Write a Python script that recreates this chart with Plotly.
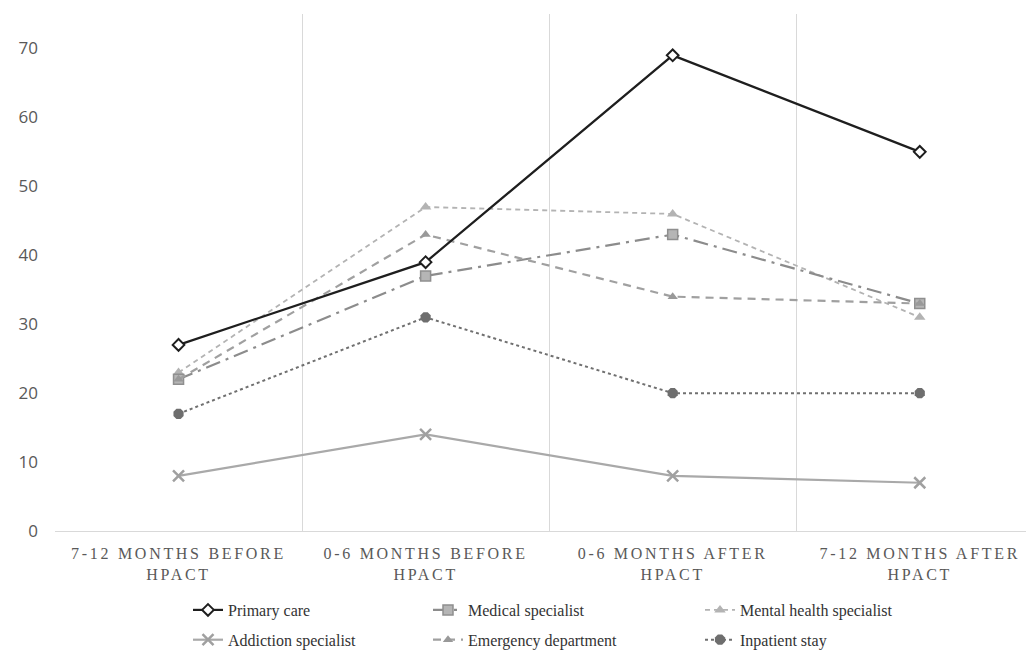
import plotly.graph_objects as go

categories = ["7-12 MONTHS BEFORE<br>HPACT", "0-6 MONTHS BEFORE<br>HPACT",
              "0-6 MONTHS AFTER<br>HPACT", "7-12 MONTHS AFTER<br>HPACT"]

primary_care = [27, 39, 69, 55]
medical_specialist = [22, 37, 43, 33]
mental_health_specialist = [23, 47, 46, 31]
addiction_specialist = [8, 14, 8, 7]
emergency_department = [22, 43, 34, 33]
inpatient_stay = [17, 31, 20, 20]

y_ticks = [0, 10, 20, 30, 40, 50, 60, 70]

series = [
    dict(name="Primary care", y=primary_care, color="#1e1e1e", dash="solid", width=2.2,
         symbol="diamond-open", msize=9, mcolor="#1e1e1e", mline=2, legend="legend", group=1),
    dict(name="Addiction specialist", y=addiction_specialist, color="#a9a9a9", dash="solid", width=2.2,
         symbol="x-thin-open", msize=11, mcolor="#a0a0a0", mline=2.5, legend="legend", group=2),
    dict(name="Medical specialist", y=medical_specialist, color="#8c8c8c", dash="longdashdot", width=2.2,
         symbol="square", msize=10, mcolor="#b5b5b5", mline=1.5, legend="legend2", group=3),
    dict(name="Emergency department", y=emergency_department, color="#a0a0a0", dash="8px,6px", width=2.2,
         symbol="triangle-up", msize=9, mcolor="#999999", mline=0, legend="legend2", group=4),
    dict(name="Mental health specialist", y=mental_health_specialist, color="#b3b3b3", dash="5px,4px", width=1.8,
         symbol="triangle-up", msize=10, mcolor="#b3b3b3", mline=0, legend="legend3", group=5),
    dict(name="Inpatient stay", y=inpatient_stay, color="#707070", dash="dot", width=2,
         symbol="octagon", msize=11, mcolor="#6e6e6e", mline=0, legend="legend3", group=6),
]

draw_order = [5, 1, 4, 2, 3, 0]

fig = go.Figure()
for i in draw_order:
    s = series[i]
    if s["symbol"] == "diamond-open":
        mk = dict(symbol="diamond", size=s["msize"], color="white", line=dict(color=s["mcolor"], width=s["mline"]))
    elif s["symbol"] == "square":
        mk = dict(symbol="square", size=s["msize"], color=s["mcolor"], line=dict(color="#8f8f8f", width=s["mline"]))
    elif s["symbol"] == "x-thin-open":
        mk = dict(symbol="x-thin-open", size=s["msize"], color=s["mcolor"], line=dict(color=s["mcolor"], width=s["mline"]))
    else:
        mk = dict(symbol=s["symbol"], size=s["msize"], color=s["mcolor"])
    fig.add_trace(go.Scatter(
        x=categories, y=s["y"], name=s["name"], mode="lines+markers",
        line=dict(color=s["color"], dash=s["dash"], width=s["width"]),
        marker=mk, legend=s["legend"], legendgroup=str(s["group"]), legendrank=s["group"],
    ))

W, H = 1026, 651
leg_font = dict(family="Liberation Serif", size=16, color="#333333")
leg_common = dict(orientation="v", xref="container", yref="container", xanchor="left", yanchor="top",
                  y=1 - 593 / H, font=leg_font, bgcolor="rgba(0,0,0,0)", traceorder="grouped",
                  tracegroupgap=6, itemclick=False)

fig.update_layout(
    width=W, height=H,
    margin=dict(l=55, r=0, t=14, b=120, autoexpand=False),
    plot_bgcolor="white", paper_bgcolor="white",
    showlegend=True,
    legend=dict(x=188 / W, **leg_common),
    legend2=dict(x=428 / W, **leg_common),
    legend3=dict(x=700 / W, **leg_common),
    xaxis=dict(
        type="category", range=[-0.5, 3.43], tickson="boundaries",
        showgrid=True, gridcolor="#d9d9d9", gridwidth=1,
        showline=True, linecolor="#d9d9d9", linewidth=1.2,
        ticks="", tickangle=0, tickfont=dict(family="Liberation Serif", size=16, color="#595959"),
        ticklabelstandoff=8, automargin=False,
    ),
    yaxis=dict(
        range=[0, 75], tickvals=y_ticks, showgrid=False, zeroline=False, showline=False,
        ticks="", tickfont=dict(family="Open Sans", size=17, color="#595959"),
        ticklabelstandoff=16, automargin=False,
    ),
)

post = """
document.body.style.margin = '0';
var gd = document.getElementById('{plot_id}');
function ls(){ document.querySelectorAll('.xtick text').forEach(function(t){ t.style.letterSpacing='2.7px'; }); }
ls();
if (gd && gd.on) { gd.on('plotly_afterplot', ls); }
"""

fig.write_html("out.html", post_script=post, config={"displayModeBar": False})
